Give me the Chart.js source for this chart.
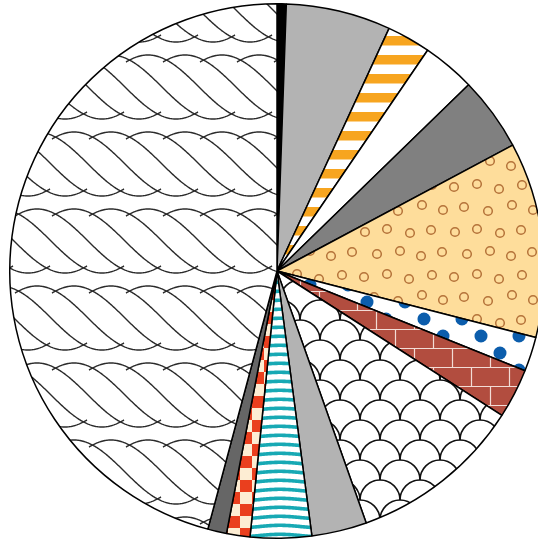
<!DOCTYPE html>
<html>
<head>
<meta charset="utf-8">
<style>
  html, body { margin: 0; padding: 0; overflow: hidden; background: #fff; }
  canvas { display: block; }
</style>
</head>
<body>
<canvas id="myChart" width="554" height="540"></canvas>
<script src="https://cdn.jsdelivr.net/npm/chart.js@4/dist/chart.umd.min.js"></script>
<script>
// slice names (none are shown on the chart) and their sizes, in degrees of the circle
var categories = ['A', 'B', 'C', 'D', 'E', 'F', 'G', 'H', 'I', 'J', 'K', 'L', 'M', 'N'];
var values = [2.0, 22.8, 9.5, 11.5, 16.1, 42.5, 7.5, 10.8, 37.8, 12.0, 13.3, 5.1, 4.1, 165.0];

var ctx = document.getElementById('myChart').getContext('2d');

//small helper: draw a tile on its own canvas and turn it into a repeating fill
function makePattern(w, h, draw) {
  var c = document.createElement('canvas');
  c.width = w;
  c.height = h;
  var g = c.getContext('2d');
  draw(g, w, h);
  return ctx.createPattern(c, 'repeat');
}

//orange horizontal stripes
var orangeStripes = makePattern(19, 19, function (g, w, h) {
  g.fillStyle = '#ffffff';
  g.fillRect(0, 0, w, h);
  g.fillStyle = '#f7a520';
  g.fillRect(0, 17, w, 2);
  g.fillRect(0, 0, w, 7.5);
});

//yellow with little brown rings
var ringPoints = [[4, 7], [27, 4], [49, 9], [72, 5], [14, 27], [38, 31], [62, 25], [83, 30],
                  [5, 52], [27, 49], [50, 53], [71, 50], [17, 74], [40, 71], [61, 76], [82, 72]];
var yellowRings = makePattern(90, 90, function (g, w, h) {
  g.fillStyle = '#fedd9b';
  g.fillRect(0, 0, w, h);
  g.strokeStyle = '#b5733a';
  g.lineWidth = 1.5;
  ringPoints.forEach(function (p) {
    for (var i = -1; i <= 1; i++) {
      for (var j = -1; j <= 1; j++) {
        g.beginPath();
        g.arc(p[0] + i * w, p[1] + j * h, 4.3, 0, Math.PI * 2);
        g.stroke();
      }
    }
  });
});

//white with blue dots
var blueDots = makePattern(38, 34, function (g, w, h) {
  g.fillStyle = '#ffffff';
  g.fillRect(0, 0, w, h);
  g.fillStyle = '#0b5dac';
  [[6, 13], [25, 30]].forEach(function (p) {
    for (var i = -1; i <= 1; i++) {
      for (var j = -1; j <= 1; j++) {
        g.beginPath();
        g.arc(p[0] + i * w, p[1] + j * h, 6.5, 0, Math.PI * 2);
        g.fill();
      }
    }
  });
});

//red bricks
var bricks = makePattern(38, 38, function (g, w, h) {
  g.fillStyle = '#b24d3f';
  g.fillRect(0, 0, w, h);
  g.strokeStyle = '#f3dcd6';
  g.lineWidth = 1.2;
  g.beginPath();
  g.moveTo(0, 6.5); g.lineTo(w, 6.5);
  g.moveTo(0, 25.5); g.lineTo(w, 25.5);
  g.moveTo(34.5, 6.5); g.lineTo(34.5, 25.5);
  g.moveTo(15.5, 25.5); g.lineTo(15.5, 38);
  g.moveTo(15.5, 0); g.lineTo(15.5, 6.5);
  g.stroke();
});

//fish scales
var scales = makePattern(40, 40, function (g, w, h) {
  g.fillStyle = '#ffffff';
  g.fillRect(0, 0, w, h);
  g.strokeStyle = '#111111';
  g.lineWidth = 1.6;
  for (var r = -1; r <= 3; r++) {
    for (var k = -1; k <= 2; k++) {
      var cx = k * 40 + (Math.abs(r) % 2 ? 20 : 0);
      var cy = r * 20;
      g.beginPath();
      g.arc(cx, cy, 20, Math.PI, Math.PI * 2);
      g.stroke();
    }
  }
});

//teal wavy stripes
var tealStripes = makePattern(80, 9, function (g, w, h) {
  g.fillStyle = '#ffffff';
  g.fillRect(0, 0, w, h);
  g.strokeStyle = '#17a9b4';
  g.lineWidth = 3.6;
  g.beginPath();
  for (var x = 0; x <= w; x++) {
    var y = 4.5 + 1.2 * Math.cos(2 * Math.PI * x / w);
    if (x === 0) g.moveTo(x, y); else g.lineTo(x, y);
  }
  g.stroke();
});

//red and cream checks
var checks = makePattern(24, 24, function (g, w, h) {
  g.fillStyle = '#fdedd3';
  g.fillRect(0, 0, w, h);
  g.fillStyle = '#ea3f1e';
  g.fillRect(0, 0, 12, 12);
  g.fillRect(12, 12, 12, 12);
});

//twisted rope rows: each strand is a stretch of sine wave, a bit past its top and bottom
var rope = makePattern(37, 77, function (g, w, h) {
  g.fillStyle = '#ffffff';
  g.fillRect(0, 0, w, h);
  g.strokeStyle = '#2b2b2b';
  g.lineWidth = 1.4;
  var sw = 102, sh = 64, ext = 22;
  [-22, 55].forEach(function (y0) {
    for (var k = -5; k <= 2; k++) {
      var x0 = k * w;
      g.beginPath();
      for (var x = -ext; x <= sw + ext; x += 1) {
        var y = y0 + sh / 2 + (sh / 2) * Math.sin(Math.PI * (x - sw / 2) / sw);
        if (x === -ext) g.moveTo(x0 + x, y); else g.lineTo(x0 + x, y);
      }
      g.stroke();
    }
  });
});

var fills = ['#000000', '#b3b3b3', orangeStripes, '#ffffff', '#808080', yellowRings, blueDots,
             bricks, scales, '#b3b3b3', tealStripes, checks, '#666666', rope];

var myChart = new Chart(ctx, {
  type: 'pie',
  data: {
    labels: categories,
    datasets: [{
      data: values,
      backgroundColor: fills,
      borderColor: '#000000',
      borderWidth: 1.5
    }]
  },
  options: {
    responsive: false,
    animation: false,
    events: [],
    layout: {
      padding: { top: 3, bottom: 1, left: 0, right: 0 }
    },
    plugins: {
      legend: { display: false },
      tooltip: { enabled: false }
    }
  }
});
</script>
</body>
</html>
